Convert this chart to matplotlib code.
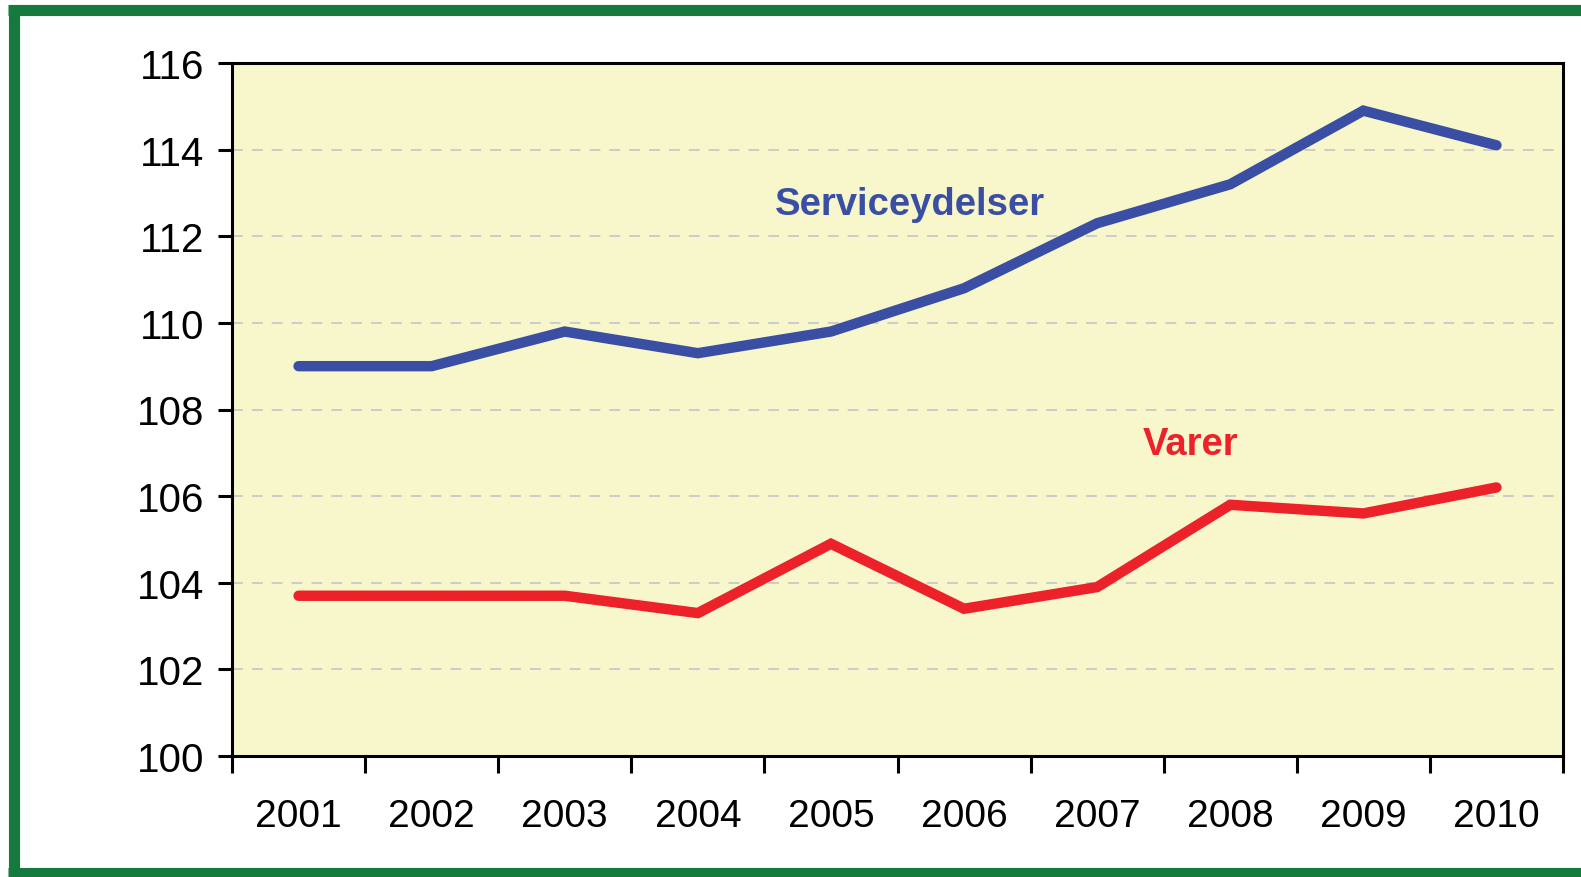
import matplotlib
matplotlib.use('Agg')
import matplotlib.pyplot as plt
from matplotlib.lines import Line2D

years = ['2001', '2002', '2003', '2004', '2005', '2006', '2007', '2008', '2009', '2010']
service = [109.0, 109.0, 109.8, 109.3, 109.8, 110.8, 112.3, 113.2, 114.9, 114.1]
varer = [103.7, 103.7, 103.7, 103.3, 104.9, 103.4, 103.9, 105.8, 105.6, 106.2]
y_ticks = [100, 102, 104, 106, 108, 110, 112, 114, 116]

plt.rcParams['font.family'] = ['Liberation Sans', 'DejaVu Sans']

W, H = 1581, 878
fig = plt.figure(figsize=(W / 100, H / 100), dpi=100)
ax = fig.add_axes([232 / W, 1 - 757 / H, (1563 - 232) / W, (757 - 64) / H])
ax.set_facecolor('#F8F7CC')

x = list(range(1, len(years) + 1))
ax.plot(x, service, color='#3A4FA3', lw=7.5, solid_capstyle='round', solid_joinstyle='miter', zorder=3)
ax.plot(x, varer, color='#EC2129', lw=7.5, solid_capstyle='round', solid_joinstyle='miter', zorder=3)

ax.set_xlim(0.5, len(years) + 0.5)
ax.set_ylim(100, 116)
ax.set_yticks(y_ticks)
ax.set_yticklabels([str(v) for v in y_ticks])
ax.set_xticks([i + 0.5 for i in range(0, len(years) + 1)])
ax.set_xticklabels([])
ax.set_xticks(x, minor=True)
ax.set_xticklabels(years, minor=True)

ax.tick_params(axis='y', direction='out', length=10, width=2.2, labelsize=29, pad=10)
ax.tick_params(axis='x', which='major', direction='out', length=12, width=2.2)
ax.tick_params(axis='x', which='minor', length=0, labelsize=28, pad=30)
for s in ax.spines.values():
    s.set_linewidth(2.2)

for v in y_ticks[1:-1]:
    ax.axhline(v, color='#C8C8C8', lw=1.3, dashes=(6, 5), zorder=1)

ax.text(5.59, 112.75, 'Serviceydelser', color='#3A4FA3', fontsize=27.5, fontweight='bold',
        ha='center', va='center')
ax.text(7.7, 107.2, 'Varer', color='#EC2129', fontsize=27.5, fontweight='bold',
        ha='center', va='center')

# green frame (left, top, bottom)
g = '#157A3E'
fig.add_artist(Line2D([13.5 / W, 13.5 / W], [0, 1 - 6 / H], transform=fig.transFigure, color=g, lw=8, solid_capstyle='butt'))
fig.add_artist(Line2D([8 / W, 1], [1 - 11 / H, 1 - 11 / H], transform=fig.transFigure, color=g, lw=8, solid_capstyle='butt'))
fig.add_artist(Line2D([8 / W, 1], [1 - 874 / H, 1 - 874 / H], transform=fig.transFigure, color=g, lw=8, solid_capstyle='butt'))

fig.savefig('out.png', dpi=100)
